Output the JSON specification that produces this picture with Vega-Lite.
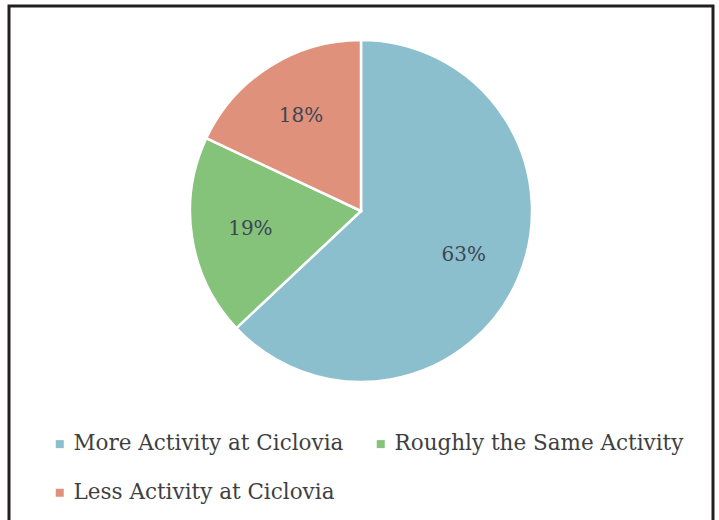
{
  "$schema": "https://vega.github.io/schema/vega-lite/v6.json",
  "width": 704,
  "height": 518,
  "padding": {"left": 9, "top": 6, "right": 6, "bottom": 0},
  "autosize": {"type": "none"},
  "background": "white",
  "view": {"stroke": "#231f20", "strokeWidth": 3, "fill": "white"},
  "config": {
    "view": {"stroke": "#231f20", "strokeWidth": 3},
    "font": "DejaVu Serif"
  },
  "data": {
    "values": [
      {"category": "More Activity at Ciclovia", "share": 63, "order": 1},
      {"category": "Roughly the Same Activity", "share": 19, "order": 2},
      {"category": "Less Activity at Ciclovia", "share": 18, "order": 3}
    ]
  },
  "encoding": {
    "theta": {"field": "share", "type": "quantitative", "stack": true},
    "order": {"field": "order", "type": "quantitative"},
    "color": {
      "field": "category",
      "type": "nominal",
      "sort": ["More Activity at Ciclovia", "Roughly the Same Activity", "Less Activity at Ciclovia"],
      "scale": {
        "domain": ["More Activity at Ciclovia", "Roughly the Same Activity", "Less Activity at Ciclovia"],
        "range": ["#8bbfcd", "#85c27a", "#e0917c"]
      },
      "legend": {
        "orient": "none",
        "legendX": 40,
        "legendY": 427,
        "direction": "horizontal",
        "columns": 2,
        "title": null,
        "symbolType": "square",
        "symbolSize": 64,
        "symbolStrokeWidth": 0,
        "labelFont": "DejaVu Serif",
        "labelFontSize": 21.5,
        "labelColor": "#3f3f3f",
        "labelLimit": 400,
        "labelOffset": 3,
        "columnPadding": 26,
        "rowPadding": 26,
        "padding": 0
      }
    }
  },
  "layer": [
    {
      "mark": {"type": "arc", "outerRadius": 171, "stroke": "white", "strokeWidth": 2.5, "y": {"expr": "205"}}
    },
    {
      "mark": {"type": "text", "radius": 112, "fontSize": 20, "font": "DejaVu Serif", "fill": "#3d4654", "y": {"expr": "205"}},
      "encoding": {
        "text": {"field": "label", "type": "nominal"}
      },
      "transform": [{"calculate": "datum.share + '%'", "as": "label"}]
    }
  ]
}
